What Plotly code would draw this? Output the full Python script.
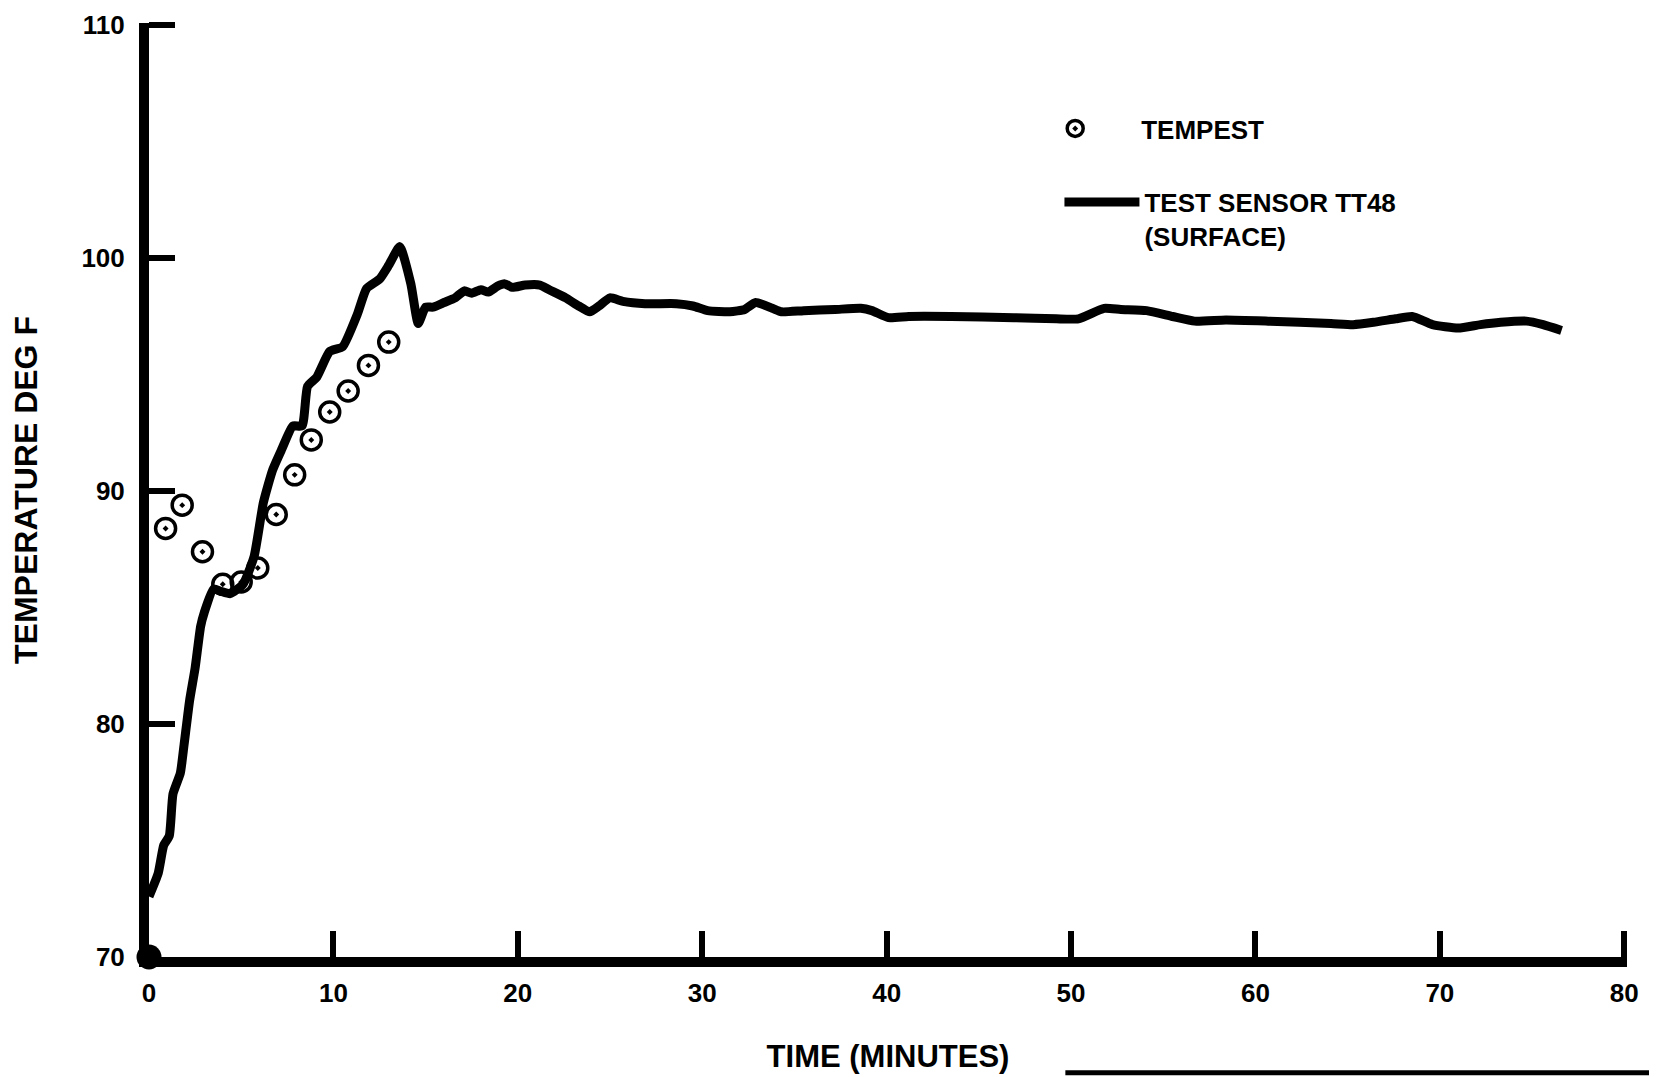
import plotly.graph_objects as go

# ---- data ----
tempest_time = [0.9, 1.8, 2.9, 4.0, 5.0, 5.9, 6.9, 7.9, 8.8, 9.8, 10.8, 11.9, 13.0]
tempest_temp = [88.4, 89.4, 87.4, 86.0, 86.1, 86.7, 89.0, 90.7, 92.2, 93.4, 94.3, 95.4, 96.4]

sensor_time = [0, 0.5, 0.8, 1.1, 1.3, 1.7, 1.9, 2.2, 2.5, 2.8,
               3.0, 3.5, 3.9, 4.4, 5.1, 5.7, 6.2, 6.7, 7.2, 7.8,
               8.3, 8.6, 9.1, 9.8, 10.5, 11.3, 11.8, 12.5, 13.0, 13.6,
               14.2, 14.6, 15.0, 15.4, 16.0, 16.6, 17.1, 17.5, 18.0, 18.4,
               18.9, 19.3, 19.7, 20.4, 21.2, 21.7, 22.6, 23.3, 23.9, 24.4,
               25.0, 25.7, 26.9, 28.6, 29.5, 30.3, 31.5, 32.3, 32.9, 33.8,
               34.3, 35.5, 37.2, 38.6, 39.2, 40.1, 41.2, 43.5, 46.9, 49.2,
               50.4, 51.8, 52.7, 54.1, 55.5, 56.7, 58.4, 60.7, 64.1, 65.3,
               66.4, 67.6, 68.5, 69.6, 71.0, 72.2, 73.3, 74.7, 75.6, 76.6]
sensor_temp = [72.6, 73.6, 74.8, 75.2, 77.0, 77.9, 79.1, 81.0, 82.4, 84.2,
               84.8, 85.8, 85.7, 85.6, 86.0, 87.2, 89.5, 90.9, 91.8, 92.8,
               92.8, 94.5, 94.9, 96.0, 96.2, 97.6, 98.7, 99.1, 99.7, 100.5,
               98.9, 97.2, 97.9, 97.9, 98.1, 98.3, 98.6, 98.5, 98.65, 98.55,
               98.8, 98.9, 98.75, 98.85, 98.85, 98.65, 98.3, 97.95, 97.7, 97.95,
               98.3, 98.15, 98.05, 98.05, 97.95, 97.75, 97.7, 97.8, 98.1, 97.85,
               97.7, 97.75, 97.8, 97.85, 97.75, 97.45, 97.5, 97.5, 97.45, 97.4,
               97.4, 97.85, 97.8, 97.75, 97.5, 97.3, 97.35, 97.3, 97.2, 97.15,
               97.25, 97.4, 97.5, 97.15, 97.0, 97.15, 97.25, 97.3, 97.15, 96.9]

x_ticks = [0, 10, 20, 30, 40, 50, 60, 70, 80]
y_ticks = [70, 80, 90, 100, 110]
# ranges padded a hair past the last tick so the end ticks are drawn
x_range = [0, 80.15]
y_range = [70, 110.1]

FONT = "Liberation Sans, Arial, sans-serif"

fig = go.Figure()

fig.add_trace(go.Scatter(
    x=tempest_time, y=tempest_temp, mode="markers", name="TEMPEST",
    marker=dict(symbol="circle-open-dot", size=20, color="black",
                line=dict(width=3.5, color="black")),
    legend="legend", cliponaxis=False,
))
fig.add_trace(go.Scatter(
    x=sensor_time, y=sensor_temp, mode="lines",
    name="TEST SENSOR TT48<br>(SURFACE)",
    line=dict(color="black", width=9, shape="spline", smoothing=0.5),
    legend="legend2", cliponaxis=False,
))
# origin dot at axis corner
fig.add_trace(go.Scatter(
    x=[x_range[0]], y=[y_range[0]], mode="markers", showlegend=False,
    marker=dict(size=25, color="black"), cliponaxis=False, hoverinfo="skip",
))

axis_common = dict(
    showline=True, linecolor="black", linewidth=10,
    ticks="inside", tickcolor="black", tickwidth=6,
    showgrid=False, zeroline=False, automargin=False,
    ticklabeloverflow="allow",
    tickfont=dict(family=FONT, size=26, color="black", weight="bold"),
)

fig.update_xaxes(
    range=x_range, tickvals=x_ticks, ticktext=[str(v) for v in x_ticks],
    ticklen=26, ticklabelstandoff=4,
    title=dict(text="TIME (MINUTES)", standoff=42,
               font=dict(family=FONT, size=31, color="black", weight="bold")),
    **axis_common,
)
fig.update_yaxes(
    range=y_range, tickvals=y_ticks, ticktext=[str(v) for v in y_ticks],
    ticklen=26, ticklabelstandoff=9,
    title=dict(text="TEMPERATURE DEG F", standoff=38,
               font=dict(family=FONT, size=32, color="black", weight="bold")),
    **axis_common,
)

legend_font = dict(family=FONT, size=26, color="black", weight="bold")
fig.update_layout(
    width=1657, height=1077,
    margin=dict(l=141, r=38, t=15, b=128),
    plot_bgcolor="white", paper_bgcolor="white",
    legend=dict(x=0.582, y=0.887, xanchor="left", yanchor="middle",
                font=legend_font, itemwidth=122, bgcolor="rgba(0,0,0,0)"),
    legend2=dict(x=0.616, y=0.790, xanchor="left", yanchor="middle",
                 font=legend_font, itemwidth=75, valign="top",
                 bgcolor="rgba(0,0,0,0)"),
    shapes=[dict(type="line", xref="paper", yref="paper",
                 x0=0.62, x1=1.06, y0=-0.124, y1=-0.124,
                 line=dict(color="black", width=5))],
)

fig.write_html("out.html")
